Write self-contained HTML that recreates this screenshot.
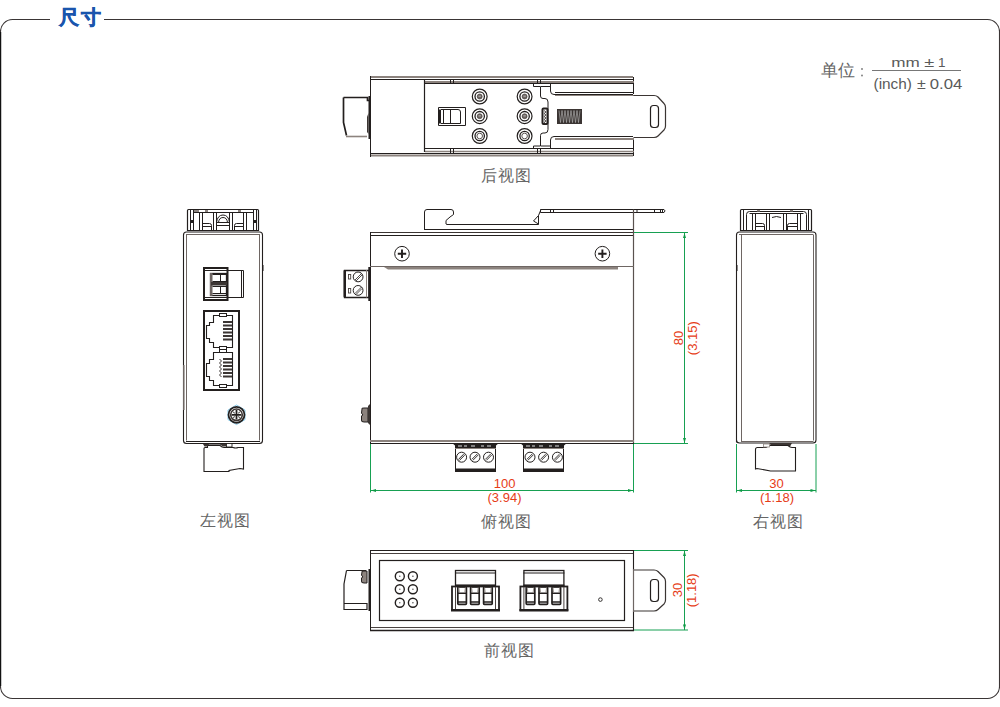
<!DOCTYPE html>
<html><head><meta charset="utf-8">
<style>
html,body{margin:0;padding:0;background:#fff;width:1000px;height:707px;overflow:hidden}
svg{display:block}
text{font-family:"Liberation Sans",sans-serif}
.k{fill:none;stroke:#231f1e;stroke-width:1}
.g{fill:none;stroke:#8c837e;stroke-width:2}
.gr{fill:none;stroke:#14a050;stroke-width:1}
.lbl{font-size:16px;fill:#666;letter-spacing:1.2px}
.dim{font-size:13px;fill:#e63c17}
</style></head><body>
<svg width="1000" height="707" viewBox="0 0 1000 707">
<!-- frame -->
<path d="M50 19.5 H12.5 A12 12 0 0 0 0.5 31.5 V686.5 A12 12 0 0 0 12.5 698.5 H987.5 A12 12 0 0 0 999.5 686.5 V31.5 A12 12 0 0 0 987.5 19.5 H104" fill="none" stroke="#3a3535" stroke-width="1.1"/>
<line x1="0.5" y1="32" x2="0.5" y2="686" stroke="#111" stroke-width="1.4"/>
<text x="59" y="24.3" font-size="19.5" font-weight="bold" fill="#1a55ad" stroke="#1a55ad" stroke-width="0.5" letter-spacing="1.8">尺寸</text>

<!-- unit -->
<text x="821" y="76" font-size="17" fill="#666">单位</text>
<circle cx="862" cy="69" r="0.9" fill="#777"/><circle cx="862" cy="75.5" r="0.9" fill="#777"/>
<line x1="872" y1="70.5" x2="961" y2="70.5" stroke="#777" stroke-width="1"/>
<g fill="#5a5a5a" font-size="13.5">
<text x="891.3" y="66.8" textLength="28.5" lengthAdjust="spacingAndGlyphs">mm</text>
<text x="924.3" y="66.8" textLength="10" lengthAdjust="spacingAndGlyphs">±</text>
<text x="938" y="66.8">1</text>
</g>
<g fill="#5a5a5a" font-size="15.5">
<text x="873.5" y="88.7" textLength="38.5" lengthAdjust="spacingAndGlyphs">(inch)</text>
<text x="917" y="88.7" textLength="8.8" lengthAdjust="spacingAndGlyphs">±</text>
<text x="929.8" y="88.7" textLength="32.5" lengthAdjust="spacingAndGlyphs">0.04</text>
</g>
<!-- labels -->
<text x="481" y="181" class="lbl">后视图</text>
<text x="199.8" y="526.3" class="lbl">左视图</text>
<text x="480.5" y="527" class="lbl">俯视图</text>
<text x="753" y="527" class="lbl">右视图</text>
<text x="483.8" y="656.3" class="lbl">前视图</text>

<g id="rear">
<!-- connector left -->
<path fill="none" stroke="#231f1e" d="M343.5 97.5 H367.5 V100.5 H369 M343.5 97.5 V122.5 L346.5 135.5" stroke-width="1.7"/>
<line x1="346" y1="136.5" x2="367" y2="136.5" stroke="#8c837e" stroke-width="1.6"/>
<path d="M368.5 96 H370 V139 H368.5 Z" fill="#231f1e"/>
<path d="M367 117 L368.5 113 V134 L367 132 Z" fill="#3b3533"/>
<!-- outer box -->
<line x1="370" y1="77" x2="633" y2="77" class="g"/>
<line x1="370" y1="79.5" x2="634" y2="79.5" class="k"/>
<line x1="370" y1="155.5" x2="633" y2="155.5" class="g" stroke-width="1.7"/>
<line x1="370" y1="153.5" x2="634" y2="153.5" class="k"/>
<line x1="370.5" y1="76" x2="370.5" y2="157" class="k"/>
<path class="k" d="M633.5 77 V94 M633.5 139 V156"/>
<!-- DIN plate -->
<line x1="425" y1="82" x2="634" y2="82" class="g"/>
<line x1="425" y1="83.5" x2="634" y2="83.5" class="k"/>
<line x1="425" y1="151.5" x2="634" y2="151.5" stroke="#8c837e" stroke-width="1.3"/>
<line x1="425" y1="148.5" x2="634" y2="148.5" class="k" stroke-width="1.2"/>
<line x1="424.5" y1="80" x2="424.5" y2="152" stroke="#231f1e" stroke-width="1.2"/>
<path class="k" d="M450.5 80 V84 M453.5 80 V84 M450.5 148 V153 M453.5 148 V153 M537.5 80 V84 M540.5 80 V84 M537.5 148 V153 M540.5 148 V153"/>
<!-- switch -->
<path class="k" d="M438.5 107.5 H465.5 V125.5 H438.5 Z M441 109.5 H458 Q460.5 109.5 460.5 112 V123.5 H441 M443.5 109.5 V123.5 M450.5 109.5 V123.5" stroke-width="1.1"/>
<rect x="439" y="109.5" width="2" height="14" fill="#231f1e"/>
<!-- circles -->
<circle cx="479.7" cy="96.5" r="7.4" fill="none" stroke="#231f1e" stroke-width="1.2"/>
<circle cx="479.7" cy="96.5" r="4.7" fill="none" stroke="#231f1e" stroke-width="1.3"/>
<circle cx="479.7" cy="96.5" r="2.5" fill="#6e6663" stroke="#3b3533" stroke-width="0.6"/>
<path d="M478.5 96.2 H480.9" stroke="#ccc" stroke-width="0.8"/>
<circle cx="479.7" cy="116.2" r="7.4" fill="none" stroke="#231f1e" stroke-width="1.2"/>
<circle cx="479.7" cy="116.2" r="4.7" fill="none" stroke="#231f1e" stroke-width="1.3"/>
<circle cx="479.7" cy="116.2" r="2.5" fill="#6e6663" stroke="#3b3533" stroke-width="0.6"/>
<path d="M478.5 115.9 H480.9" stroke="#ccc" stroke-width="0.8"/>
<circle cx="479.7" cy="136" r="7.4" fill="none" stroke="#231f1e" stroke-width="1.2"/>
<circle cx="479.7" cy="136" r="4.7" fill="none" stroke="#231f1e" stroke-width="1.3"/>
<circle cx="479.7" cy="136" r="2.8" fill="none" stroke="#4a4341" stroke-width="0.9"/>
<circle cx="524.6" cy="96.5" r="7.4" fill="none" stroke="#231f1e" stroke-width="1.2"/>
<circle cx="524.6" cy="96.5" r="4.7" fill="none" stroke="#231f1e" stroke-width="1.3"/>
<circle cx="524.6" cy="96.5" r="2.5" fill="#6e6663" stroke="#3b3533" stroke-width="0.6"/>
<path d="M523.4 96.2 H525.8000000000001" stroke="#ccc" stroke-width="0.8"/>
<circle cx="524.6" cy="116.2" r="7.4" fill="none" stroke="#231f1e" stroke-width="1.2"/>
<circle cx="524.6" cy="116.2" r="4.7" fill="none" stroke="#231f1e" stroke-width="1.3"/>
<circle cx="524.6" cy="116.2" r="2.5" fill="#6e6663" stroke="#3b3533" stroke-width="0.6"/>
<path d="M523.4 115.9 H525.8000000000001" stroke="#ccc" stroke-width="0.8"/>
<circle cx="524.6" cy="136" r="7.4" fill="none" stroke="#231f1e" stroke-width="1.2"/>
<circle cx="524.6" cy="136" r="4.7" fill="none" stroke="#231f1e" stroke-width="1.3"/>
<circle cx="524.6" cy="136" r="2.8" fill="none" stroke="#4a4341" stroke-width="0.9"/>
<!-- clip -->
<path class="k" d="M533.5 84 V86.5 H540.5 V96 Q540.5 98.5 543 98.5 H545 Q548 98.5 548 102 V129.5 Q548 133 545 133 H543 Q540.5 133 540.5 135.5 V146 H533.5 V148.5" stroke-width="1.1"/>
<path class="k" d="M541 86.5 H550.5 M541 146 H550.5"/>
<path class="k" d="M550.5 84 V91 Q550.5 94.5 554 94.5 H633 M550.5 148.5 V140 Q550.5 136.5 554 136.5 H633"/>
<line x1="555" y1="92.5" x2="634" y2="92.5" class="k"/>
<line x1="555" y1="139" x2="634" y2="139" class="g" stroke-width="1.6"/>
<line x1="555" y1="95.5" x2="634" y2="95.5" stroke="#8c837e" stroke-width="1.2"/>
<rect x="542.5" y="108.5" width="5" height="15.5" rx="1" fill="none" stroke="#231f1e" stroke-width="2"/>
<path d="M544 110.5 l2 1.5 l-2 1.5 l2 1.5 l-2 1.5 l2 1.5 l-2 1.5 l2 1.5 l-2 1.5 l2 1.5" fill="none" stroke="#3b3533" stroke-width="0.9"/>
<!-- spring -->
<rect x="557" y="109" width="25" height="15" fill="#3b3533"/>
<path d="M559 110.5 l1.5 12 l1.5 -12 l1.5 12 l1.5 -12 l1.5 12 l1.5 -12 l1.5 12 l1.5 -12 l1.5 12 l1.5 -12 l1.5 12 l1.5 -12 l1.5 12 l1.5 -12" fill="none" stroke="#bbb" stroke-width="0.6"/>
<!-- tab -->
<path fill="none" stroke="#3b3533" stroke-width="1.2" d="M633.5 95.5 H654 Q656.5 95.5 658 97 L664 103.5 Q665.5 105 665.5 107.5 V126 Q665.5 128.5 664 130 L658 136 Q656.5 137.5 654 137.5 H633.5"/>
<rect x="650.5" y="105.5" width="8" height="22" rx="3" fill="none" stroke="#231f1e" stroke-width="1.2"/>
</g>
<g id="main">
<!-- top DIN clip -->
<path class="k" d="M424.5 229.5 V212 Q424.5 209.5 427 209.5 H451 Q453.5 209.5 453.5 212 V214.5 L450 217 L446 220.5 V224 L447 224.5 H538.5 V215.5 L533.5 221 L538.5 224 M538.5 215.5 L541 209.5" stroke-width="1.1"/>
<path class="k" d="M540.5 209.5 H664 Q666 210.8 664 212.5 H540.5 Z" stroke-width="1.1"/>
<path class="k" d="M550.5 209.5 V212.5 M553.5 209.5 V212.5 M637 209.5 V212.5 M654.5 209.5 V212.5 M660.5 209.5 V212.5 M662.5 209.5 V212.5" stroke-width="0.9"/>
<!-- body -->
<line x1="424" y1="229.5" x2="634" y2="229.5" class="k"/>
<line x1="370" y1="232.5" x2="634" y2="232.5" stroke="#3b3533" stroke-width="1.1"/>
<line x1="370" y1="235.5" x2="634" y2="235.5" class="k"/>
<line x1="370.5" y1="232" x2="370.5" y2="444" class="k"/>
<line x1="633.5" y1="209.5" x2="633.5" y2="444" stroke="#5a524f" stroke-width="1.2"/>
<!-- screws -->
<g><circle cx="402" cy="253.7" r="7.3" class="k" stroke-width="1.6"/>
<path d="M402 249.5 V258 M397.8 253.7 H406.2" stroke="#231f1e" stroke-width="1.9"/></g>
<g><circle cx="602.4" cy="253.7" r="7.3" class="k" stroke-width="1.6"/>
<path d="M602.4 249.5 V258 M598.2 253.7 H606.6" stroke="#231f1e" stroke-width="1.9"/></g>
<!-- separator -->
<line x1="370" y1="266.5" x2="634" y2="266.5" stroke="#6e6663" stroke-width="1.2"/>
<path d="M384 267 H618 V269.5 H388 Z" fill="#8c837e"/>
<!-- left terminal block -->
<path d="M344.5 270.5 H369 V297.5 H344.5 Z" fill="#fff" stroke="#231f1e" stroke-width="1.3"/>
<rect x="343.5" y="270" width="2.5" height="27.5" rx="1" fill="#231f1e"/>
<line x1="366.5" y1="270" x2="366.5" y2="297.5" stroke="#8c837e" stroke-width="1"/>
<rect x="368.3" y="267" width="2.2" height="34" fill="#231f1e"/>
<rect x="348.5" y="274.5" width="2.2" height="4.5" fill="none" stroke="#4a4341" stroke-width="0.9"/>
<rect x="348.5" y="288.5" width="2.2" height="4.5" fill="none" stroke="#4a4341" stroke-width="0.9"/>
<circle cx="358.1" cy="276.9" r="4.9" class="k" stroke-width="1.9"/>
<circle cx="358.1" cy="290.4" r="4.9" class="k" stroke-width="1.9"/>
<path d="M355 280 L361.5 273.5 M356 281 L362 275 M355 293.5 L361.5 287 M356 294.5 L362 288.5" stroke="#231f1e" stroke-width="0.8"/>
<!-- left latch -->
<path d="M362 409 Q361 408 364 408 H368 V422 H364 Q361 422 361.5 420 V416 Q362 415 363 415 Q362 414 361.5 413 Z" fill="#8c837e" stroke="#231f1e" stroke-width="1"/>
<path d="M368 406 L370 404 V425 L368 423 Z" fill="#3b3533"/>
<!-- bottom -->
<line x1="370" y1="441" x2="634" y2="441" class="g"/>
<line x1="370" y1="443.5" x2="634" y2="443.5" class="k" stroke-width="1.1"/>
<path d="M452 443 H499 L496 445.5 V449 H455 V445.5 Z" fill="#231f1e"/>
<path d="M458 446 h4 M464 446 h3 M471 446 h4 M481 446 h3 M487 446 h4" stroke="#ddd" stroke-width="1.2"/>
<line x1="455" y1="448.5" x2="496" y2="448.5" stroke="#8c837e" stroke-width="1"/>
<path class="k" d="M455.5 449 V471 M495.5 449 V471" stroke-width="1.2"/>
<rect x="455" y="468.5" width="41" height="3.5" fill="#231f1e"/>
<circle cx="461.6" cy="457.2" r="5" class="k" stroke-width="1.8"/>
<path d="M458.40000000000003 459.4 L463.8 454.0 M459.40000000000003 460.4 L464.8 455.0" stroke="#231f1e" stroke-width="1"/>
<circle cx="475" cy="457.2" r="5" class="k" stroke-width="1.8"/>
<path d="M471.8 459.4 L477.2 454.0 M472.8 460.4 L478.2 455.0" stroke="#231f1e" stroke-width="0.9"/>
<circle cx="488.5" cy="457.2" r="5" class="k" stroke-width="1.8"/>
<path d="M485.3 459.4 L490.7 454.0 M486.3 460.4 L491.7 455.0" stroke="#231f1e" stroke-width="0.9"/>
<path d="M520 443 H567 L564 445.5 V449 H523 V445.5 Z" fill="#231f1e"/>
<path d="M526 446 h4 M532 446 h3 M539 446 h4 M549 446 h3 M555 446 h4" stroke="#ddd" stroke-width="1.2"/>
<line x1="523" y1="448.5" x2="564" y2="448.5" stroke="#8c837e" stroke-width="1"/>
<path class="k" d="M523.5 449 V471 M563.5 449 V471" stroke-width="1.2"/>
<rect x="523" y="468.5" width="41" height="3.5" fill="#231f1e"/>
<circle cx="530" cy="457.2" r="5" class="k" stroke-width="1.8"/>
<path d="M526.8 459.4 L532.2 454.0 M527.8 460.4 L533.2 455.0" stroke="#231f1e" stroke-width="0.9"/>
<circle cx="543.6" cy="457.2" r="5" class="k" stroke-width="1.8"/>
<path d="M540.4 459.4 L545.8000000000001 454.0 M541.4 460.4 L546.8000000000001 455.0" stroke="#231f1e" stroke-width="0.9"/>
<circle cx="557.4" cy="457.2" r="5" class="k" stroke-width="1.8"/>
<path d="M554.1999999999999 459.4 L559.6 454.0 M555.1999999999999 460.4 L560.6 455.0" stroke="#231f1e" stroke-width="0.9"/>
</g>
<g id="left">
<!-- clip -->
<g fill="none" stroke="#231f1e" stroke-width="1">
<path d="M187.5 230.5 V210.5 Q187.5 209.5 188.5 209.5 H257.5 Q258.5 209.5 258.5 210.5 V230.5 Z" stroke-width="1.2"/>
<path d="M190.5 209.5 V230.5 M193.5 209.5 V230.5 M253.5 209.5 V230.5 M256.5 209.5 V230.5"/>
<path d="M193.5 212.5 H253.5"/>
<path d="M199.5 212.5 V230.5 M202.5 212.5 V230.5 M213.5 212.5 V230.5 M216.5 212.5 V230.5 M229.5 212.5 V230.5 M232.5 212.5 V230.5 M243.5 212.5 V230.5 M246.5 212.5 V230.5"/>
<path d="M216.5 222.5 Q217.5 215 223 215 Q228.5 215 229.5 222.5 M218.5 222.5 Q219 217.5 223 217.5 Q227 217.5 227.5 222.5 M216.5 222.5 H229.5 M216.5 225.5 H229.5"/>
<path d="M202.5 223.5 H209.5 Q211.5 223.5 211.5 225.5 V230.5 M202.5 226.5 H211.5 M234.5 230.5 V225.5 Q234.5 223.5 236.5 223.5 H243.5 M234.5 226.5 H243.5"/>
</g>
<g fill="#8c837e"><rect x="194" y="210" width="5" height="2"/><rect x="205" y="210" width="3" height="2"/><rect x="238" y="210" width="3" height="2"/></g>
<rect x="191" y="220" width="2" height="3" fill="#231f1e"/><rect x="254" y="220" width="2" height="3" fill="#231f1e"/>
<!-- body -->
<path fill="none" stroke="#231f1e" stroke-width="1.1" d="M183.5 441 V235 Q183.5 232 186.5 232 H259.5 Q262.5 232 262.5 235 V440.5 Q262.5 443.5 259.5 443.5 H186.5 Q183.5 443.5 183.5 440.5"/>
<path fill="none" stroke="#6e6663" stroke-width="1" d="M186.5 235 V440.5 M259.5 235 V440.5 M186 234.5 H260"/><path d="M186 441.5 H260" stroke="#231f1e" stroke-width="1"/>
<rect x="262" y="265" width="1.5" height="6" fill="#231f1e"/><rect x="183" y="365" width="1.5" height="45" fill="#6e6663"/>
<!-- 2-pin terminal -->
<rect x="204" y="268" width="23.5" height="32" fill="none" stroke="#231f1e" stroke-width="2"/>
<path fill="none" stroke="#231f1e" stroke-width="1" d="M205 270.5 H227.5 M205 297.5 H227.5 M227.5 270.5 H243.5 V297.5 H227.5 M241.5 270.5 V297.5"/>
<rect x="210.5" y="273.5" width="16" height="22" fill="none" stroke="#231f1e" stroke-width="1.3"/>
<rect x="210" y="273" width="2.5" height="23" fill="#6e6663"/>
<rect x="211" y="282" width="16" height="3.5" fill="#3b3533"/>
<path fill="none" stroke="#231f1e" stroke-width="1" d="M212.5 274.5 H226 M212.5 281.5 H226 M212.5 286.5 H226 M212.5 293.5 H226 M220.5 274 V281.5 M220.5 286.5 V294"/>
<!-- RJ45 -->
<rect x="204" y="311" width="35" height="79" fill="none" stroke="#231f1e" stroke-width="2"/>
<path fill="none" stroke="#231f1e" stroke-width="1.1" d="M213.5 315.5 H232.5 V347.5 H213.5 V342.5 H209.5 V338.5 H206.5 V325.5 H209.5 V322.5 H213.5 Z"/>
<path fill="none" stroke="#231f1e" stroke-width="1.1" d="M213.5 352.5 H232.5 V385.5 H213.5 V380.5 H209.5 V376.5 H206.5 V363.5 H209.5 V359.5 H213.5 Z"/>

<g fill="#fff" stroke="#231f1e" stroke-width="1">
<rect x="219.5" y="313.5" width="7" height="3"/><rect x="219.5" y="346.5" width="7" height="3"/><rect x="219.5" y="349.5" width="7" height="3"/><rect x="219.5" y="384.5" width="7" height="3"/>
</g>
<g fill="#3b3533">
<rect x="223" y="321" width="9" height="2"/><rect x="223" y="324.5" width="9" height="2"/><rect x="223" y="328" width="9" height="2"/><rect x="223" y="331.5" width="9" height="2"/><rect x="223" y="335" width="9" height="2"/><rect x="223" y="338.5" width="9" height="2"/>
<rect x="223" y="358" width="9" height="2"/><rect x="223" y="361.5" width="9" height="2"/><rect x="223" y="365" width="9" height="2"/><rect x="223" y="368.5" width="9" height="2"/><rect x="223" y="372" width="9" height="2"/><rect x="223" y="375.5" width="9" height="2"/>
</g>
<path d="M219.5 359 L221.5 361 L219.5 363 L221.5 365 L219.5 367 L221.5 369 L219.5 371 L221.5 373 L219.5 375 L221.5 377" fill="none" stroke="#3b3533" stroke-width="1"/>
<!-- ground screw -->
<path d="M236.5 405 L245 410 V419.6 L236.5 424.6 L228 419.6 V410 Z" fill="none" stroke="#6cc0e8" stroke-width="0.8"/>
<circle cx="236.5" cy="414.8" r="8" fill="#fff" stroke="#231f1e" stroke-width="1.8"/>
<circle cx="236.5" cy="414.8" r="5.8" fill="none" stroke="#3b3533" stroke-width="1.6"/>
<path d="M236.5 410 V419.6 M231.7 414.8 H241.3" stroke="#231f1e" stroke-width="1.8"/>
<path d="M233.2 411.8 l1.5 1.5 M239.8 411.8 l-1.5 1.5 M233.2 417.8 l1.5 -1.5 M239.8 417.8 l-1.5 -1.5" stroke="#555" stroke-width="1.1"/>
<!-- bottom connector -->
<path fill="#fff" stroke="#231f1e" stroke-width="1.1" d="M204 471.5 V448.5 Q204 447.5 205 447.5 H207.5 V445.5 H220 Q222 447.5 224 447.5 H233 Q236 448.5 238 447.5 H243.5 V469 L240 468.5 L229 470.5 V471.5 Z"/>
<path d="M203 444 H209 L207.5 446.5 H204.5 Z M220 444 H226 V446.5 L222.5 446.5 Z" fill="#3b3533"/>
<path d="M208 444 H221" stroke="#231f1e" stroke-width="1.2"/>
<rect x="226.5" y="443.5" width="5.5" height="3.5" fill="#fff" stroke="#231f1e" stroke-width="0.9"/>
</g>
<g id="right">
<g fill="none" stroke="#231f1e" stroke-width="1">
<path d="M740.5 230.5 V210.5 Q740.5 209.5 741.5 209.5 H810.5 Q811.5 209.5 811.5 210.5 V230.5 Z" stroke-width="1.2"/>
<path d="M743.5 209.5 V230.5 M808.5 209.5 V230.5"/>
<path d="M746.5 230.5 V214.5 Q746.5 211.5 749.5 211.5 H803.5 Q806.5 211.5 806.5 214.5 V230.5 M749.5 213.5 H803.5"/>
<path d="M752.5 213.5 V230.5 M755.5 213.5 V230.5 M766.5 213.5 V230.5 M769.5 213.5 V230.5 M783.5 213.5 V230.5 M786.5 213.5 V230.5 M797.5 213.5 V230.5 M800.5 213.5 V230.5"/>
<path d="M769.5 213.5 H783.5 M772 217.5 Q776.5 215.5 781 217.5"/>
<path d="M755.5 223.5 H762.5 Q764.5 223.5 764.5 225.5 V230.5 M755.5 226.5 H764.5 M787.5 230.5 V225.5 Q787.5 223.5 789.5 223.5 H797.5 M787.5 226.5 H797.5"/>
</g>
<g fill="#8c837e"><rect x="757" y="210" width="3" height="1.5"/><rect x="790" y="210" width="3" height="1.5"/></g>
<path fill="none" stroke="#231f1e" stroke-width="1.1" d="M736.5 442.5 V235 Q736.5 232 739.5 232 H813 Q816 232 816 235 V440 Q816 443 813 443 H739.5 Q736.5 443 736.5 440"/>
<path fill="none" stroke="#6e6663" stroke-width="1" d="M741.5 234.5 V441.5 M813.5 235 V440.5 M739 234.5 H813.5 M741 441.5 H813.5"/>
<rect x="736" y="265" width="1.5" height="6" fill="#231f1e"/>
<!-- bottom connector -->
<path d="M769 443 H792 L790 446.5 H772 Z" fill="#3b3533"/>
<path fill="#fff" stroke="#231f1e" stroke-width="1.1" d="M755.5 469 V449.5 Q755.5 447.5 757.5 447.5 H766 L769 445.5 H788 Q790 447.5 792 447.5 H795.5 V471 H770.5 L757 468.5 Z"/>
<rect x="763.5" y="444" width="6" height="3" fill="#fff" stroke="#8c837e" stroke-width="0.8"/>
</g>
<g id="front">
<!-- left connector -->
<path fill="none" stroke="#231f1e" stroke-width="1.2" d="M346.5 570.5 H366 M346.5 570.5 L344 584 V609.5 H367 V603.5 H344"/>

<path d="M362 572 Q361 571 364 571 H367 V583 H364 Q361 583 361.5 581 V578 Q362 577 363 577 Q362 576 361.5 575 Z" fill="#8c837e" stroke="#231f1e" stroke-width="1"/>
<rect x="368.5" y="569" width="1.5" height="42" fill="#231f1e"/>
<!-- body -->
<line x1="370" y1="550.5" x2="634" y2="550.5" stroke="#231f1e" stroke-width="1.2"/>
<line x1="370" y1="553.5" x2="634" y2="553.5" stroke="#4a4341" stroke-width="1"/>
<line x1="370" y1="627.5" x2="634" y2="627.5" stroke="#4a4341" stroke-width="1"/>
<line x1="370" y1="630.5" x2="634" y2="630.5" stroke="#231f1e" stroke-width="1.3"/>
<line x1="370.5" y1="550" x2="370.5" y2="631" stroke="#231f1e" stroke-width="1"/>
<path fill="none" stroke="#231f1e" stroke-width="1.1" d="M633.5 550 V569.5 M633.5 611.5 V631"/>
<rect x="379.5" y="560.5" width="245" height="60" fill="none" stroke="#231f1e" stroke-width="1.2"/>
<!-- LEDs -->
<g fill="none" stroke="#231f1e" stroke-width="1.4">
<circle cx="399.8" cy="576.2" r="4.5"/><circle cx="412.9" cy="576.2" r="4.5"/>
<circle cx="399.8" cy="589.3" r="4.5"/><circle cx="412.9" cy="589.3" r="4.5"/>
<circle cx="399.8" cy="602.7" r="4.5"/><circle cx="412.9" cy="602.7" r="4.5"/>
</g>
<g fill="#555"><circle cx="399.8" cy="576.2" r="0.7"/><circle cx="412.9" cy="576.2" r="0.8"/><circle cx="399.8" cy="589.3" r="0.7"/><circle cx="412.9" cy="589.3" r="0.8"/><circle cx="399.8" cy="602.7" r="0.7"/><circle cx="412.9" cy="602.7" r="0.8"/></g>
<rect x="455.5" y="570.5" width="40" height="15" fill="none" stroke="#231f1e" stroke-width="1.3"/>
<line x1="455" y1="573" x2="496" y2="573" stroke="#231f1e" stroke-width="1"/>
<rect x="452" y="586.5" width="47" height="23.5" fill="none" stroke="#231f1e" stroke-width="1.8"/>
<rect x="451" y="609" width="49" height="2.5" fill="#231f1e"/>
<rect x="455" y="584.5" width="41" height="2" fill="#231f1e"/>
<path d="M455.5 587 V609 M495.5 587 V609" stroke="#4a4341" stroke-width="1" fill="none"/>
<rect x="457.8" y="587" width="8.6" height="17.3" rx="0.8" fill="none" stroke="#231f1e" stroke-width="1.7"/>
<path d="M457.5 593.3 H466.7 M457.5 602 H466.7" stroke="#231f1e" stroke-width="1.5" fill="none"/>
<path d="M458.8 587.5 L459.5 593 M465.4 587.5 L464.7 593" stroke="#8c837e" stroke-width="0.8" fill="none"/>
<rect x="470.6" y="587" width="8.6" height="17.3" rx="0.8" fill="none" stroke="#231f1e" stroke-width="1.7"/>
<path d="M470.3 593.3 H479.5 M470.3 602 H479.5" stroke="#231f1e" stroke-width="1.5" fill="none"/>
<path d="M471.6 587.5 L472.3 593 M478.2 587.5 L477.5 593" stroke="#8c837e" stroke-width="0.8" fill="none"/>
<rect x="483.6" y="587" width="8.6" height="17.3" rx="0.8" fill="none" stroke="#231f1e" stroke-width="1.7"/>
<path d="M483.3 593.3 H492.5 M483.3 602 H492.5" stroke="#231f1e" stroke-width="1.5" fill="none"/>
<path d="M484.6 587.5 L485.3 593 M491.2 587.5 L490.5 593" stroke="#8c837e" stroke-width="0.8" fill="none"/>
<rect x="523.9" y="570.5" width="40" height="15" fill="none" stroke="#231f1e" stroke-width="1.3"/>
<line x1="523.4" y1="573" x2="564.4" y2="573" stroke="#231f1e" stroke-width="1"/>
<rect x="520.4" y="586.5" width="47" height="23.5" fill="none" stroke="#231f1e" stroke-width="1.8"/>
<rect x="519.4" y="609" width="49" height="2.5" fill="#231f1e"/>
<rect x="523.4" y="584.5" width="41" height="2" fill="#231f1e"/>
<path d="M523.9 587 V609 M563.9 587 V609" stroke="#4a4341" stroke-width="1" fill="none"/>
<rect x="526.1999999999999" y="587" width="8.6" height="17.3" rx="0.8" fill="none" stroke="#231f1e" stroke-width="1.7"/>
<path d="M525.9 593.3 H535.1 M525.9 602 H535.1" stroke="#231f1e" stroke-width="1.5" fill="none"/>
<path d="M527.1999999999999 587.5 L527.9 593 M533.8 587.5 L533.1 593" stroke="#8c837e" stroke-width="0.8" fill="none"/>
<rect x="538.9999999999999" y="587" width="8.6" height="17.3" rx="0.8" fill="none" stroke="#231f1e" stroke-width="1.7"/>
<path d="M538.6999999999999 593.3 H547.9 M538.6999999999999 602 H547.9" stroke="#231f1e" stroke-width="1.5" fill="none"/>
<path d="M539.9999999999999 587.5 L540.6999999999999 593 M546.5999999999999 587.5 L545.9 593" stroke="#8c837e" stroke-width="0.8" fill="none"/>
<rect x="551.9999999999999" y="587" width="8.6" height="17.3" rx="0.8" fill="none" stroke="#231f1e" stroke-width="1.7"/>
<path d="M551.6999999999999 593.3 H560.9 M551.6999999999999 602 H560.9" stroke="#231f1e" stroke-width="1.5" fill="none"/>
<path d="M552.9999999999999 587.5 L553.6999999999999 593 M559.5999999999999 587.5 L558.9 593" stroke="#8c837e" stroke-width="0.8" fill="none"/>
<circle cx="600.4" cy="599.6" r="1.8" fill="none" stroke="#231f1e" stroke-width="0.9"/>
<!-- tab -->
<path fill="none" stroke="#3b3533" stroke-width="1.2" d="M633.5 570 H654 Q656.5 570 658 571.5 L664 577.5 Q665.5 579 665.5 581.5 V600 Q665.5 602.5 664 604 L658 609.5 Q656.5 611 654 611 H633.5"/>
<line x1="633.5" y1="569" x2="633.5" y2="612" stroke="#6e6663" stroke-width="1.2"/>
<rect x="650.5" y="579.5" width="8" height="22" rx="3" fill="none" stroke="#231f1e" stroke-width="1.2"/>
</g>
<g id="dims">
<g fill="none" stroke="#17a052" stroke-width="1">
<path d="M370.5 444 V492.5 M633.5 444 V492.5 M370.5 490.5 H633.5"/>
<path d="M634 232.5 H688 M634 443.5 H688 M684.5 232.5 V443.5"/>
<path d="M736.5 444 V492.5 M816 444 V492.5 M736.5 490.5 H816"/>
<path d="M634 550.5 H688 M634 630 H688 M684.5 550.5 V630"/>
</g>
<g fill="#0e9a45">
<path d="M371 490.5 L376 489 V492 Z"/><path d="M633 490.5 L628 489 V492 Z"/>
<path d="M737 490.5 L742 489 V492 Z"/><path d="M815.5 490.5 L810.5 489 V492 Z"/>
<path d="M684.5 233 L683 238 H686 Z"/><path d="M684.5 443 L683 438 H686 Z"/>
<path d="M684.5 551 L683 556 H686 Z"/><path d="M684.5 629.5 L683 624.5 H686 Z"/>
</g>
<g class="dim" text-anchor="middle">
<text x="504.6" y="488">100</text>
<text x="504.5" y="502">(3.94)</text>
<text x="776.6" y="488">30</text>
<text x="777" y="502">(1.18)</text>
<text transform="translate(682.8 337.9) rotate(-90)">80</text>
<text transform="translate(696.5 338.2) rotate(-90)">(3.15)</text>
<text transform="translate(682.3 589.9) rotate(-90)">30</text>
<text transform="translate(696 590.3) rotate(-90)">(1.18)</text>
</g>
</g>
</svg>
</body></html>
